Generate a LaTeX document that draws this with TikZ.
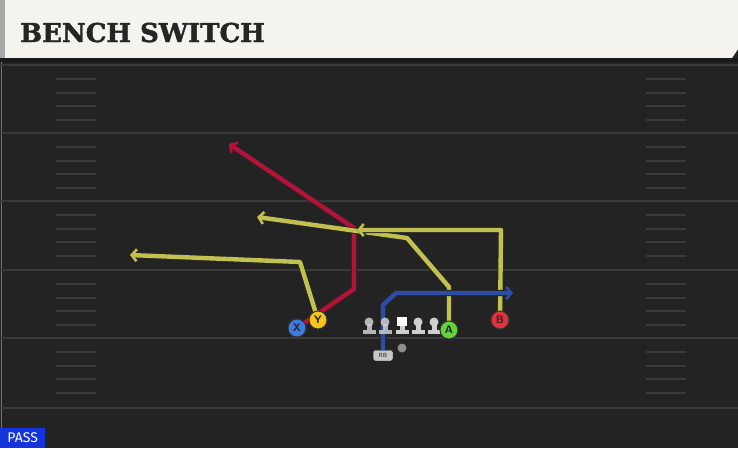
\documentclass[tikz,border=0pt]{standalone}
\usepackage{fontspec}
\setmainfont{DejaVu Sans}
\newfontfamily\titlefont{DejaVu Serif}[FakeBold=1.6]
\newfontfamily\passfont{Fira Sans}
\usetikzlibrary{arrows.meta}
\definecolor{fieldbg}{HTML}{232323}
\definecolor{yardc}{HTML}{3A3A3A}
\definecolor{hashc}{HTML}{3A3A3A}
\definecolor{headbg}{HTML}{F5F3EE}
\definecolor{titlec}{HTML}{252525}
\definecolor{redroute}{HTML}{B5123A}
\definecolor{yelroute}{HTML}{C2C04E}
\definecolor{bluroute}{HTML}{2B4DA5}
\definecolor{xfill}{HTML}{3D7BE0}
\definecolor{yfill}{HTML}{F5C518}
\definecolor{afill}{HTML}{62D33C}
\definecolor{bfill}{HTML}{E2313F}
\definecolor{linec}{HTML}{CFCFCF}
\definecolor{passblue}{HTML}{1434DC}
\tikzset{
  yard/.style={draw=yardc, line width=2pt},
  hashmark/.style={draw=hashc, line width=1.3pt},
  route/.style={draw=#1, line width=4.4pt, line join=round,
    -{Straight Barb[length=5pt,width=12pt,line width=2.6pt]},
    preaction={draw=black!85, line width=6.2pt, line join=round,
    -{Straight Barb[length=5.6pt,width=13.5pt,line width=4.2pt]}}},
  player/.style={circle, draw=black!80, line width=1pt, fill=#1, minimum size=18pt,
    inner sep=0pt, font=\sffamily\bfseries\fontsize{11}{11}\selectfont, text=black!85},
  rbtag/.style={rounded corners=2pt, fill=black!22, minimum width=19pt, minimum height=10pt, inner sep=0pt,
    font=\sffamily\bfseries\fontsize{6}{6}\selectfont, text=black!70},
  lineman/.pic={
    \fill[linec] (-6.5,-4) rectangle (6.5,0);
    \fill[linec] (-2.5,-10) rectangle (2.5,-4);
    \fill[linec] (0,-12) circle (4.5);
  },
  centerman/.pic={
    \fill[linec] (-6.5,-4) rectangle (6.5,0);
    \fill[linec] (-2.5,-10) rectangle (2.5,-4);
    \fill[white] (-5,-17) rectangle (5,-8);
  }
}
\begin{document}
\begin{tikzpicture}[x=1pt,y=-1pt]
\useasboundingbox (0,0) rectangle (738,448);
\fill[fieldbg] (0,0) rectangle (738,448);
% header
\fill[headbg] (0,0) -- (738,0) -- (738,49) -- (732,58) -- (0,58) -- cycle;
\fill[black!90] (0,58) rectangle (738,62);
\fill[black!35] (0,0) rectangle (5,58);
\node[anchor=base west, inner sep=0pt, text=titlec, font=\titlefont\bfseries\fontsize{26}{26}\selectfont] (title) at (20,42) {BENCH SWITCH};
% left edge
\draw[black!55, line width=1pt] (1,62) -- (1,448);
% yard lines
\foreach \y in {65,133,201,270,338,408} {\draw[yard] (0,\y) -- (738,\y);}
\foreach \y in {65,133,201,270,338} {
  \foreach \o in {14,28,41,55} {
    \draw[hashmark] (56,\y+\o) -- (96,\y+\o);
    \draw[hashmark] (646,\y+\o) -- (686,\y+\o);
  }
}
% players
\node[player=xfill] (X) at (297,328) {X};
\node[player=yfill] (Y) at (318,320) {Y};
\node[player=afill] (A) at (449,330) {A};
\node[player=bfill] (B) at (500,320) {B};
\node[circle, fill=black!45, minimum size=9pt, inner sep=0pt] (qb) at (402,348) {};
\node[rbtag] (rb) at (383,355.5) {RB};
% route waypoints
\coordinate (r1) at (354,289); \coordinate (r2) at (354,228); \coordinate (rend) at (229,144);
\coordinate (y1) at (300,262); \coordinate (yend) at (130,255);
\coordinate (a1) at (449,287); \coordinate (a2) at (407,238); \coordinate (aend) at (257,217);
\coordinate (b1) at (501,230); \coordinate (bend) at (357,230);
\coordinate (rb1) at (383,305); \coordinate (rb2) at (396,293); \coordinate (rbend) at (513,293);
% routes
\draw[route=redroute] (X.center) -- (r1) -- (r2) -- (rend);
\draw[route=yelroute] (Y.center) -- (y1) -- (yend);
\draw[route=yelroute] (A.center) -- (a1) -- (a2) -- (aend);
\draw[route=yelroute] (B.center) -- (b1) -- (bend);
\draw[route=bluroute] (rb.center) -- (rb1) -- (rb2) -- (rbend);
% linemen
\pic[opacity=0.85] at (369,334) {lineman};
\pic[opacity=0.85] at (385,334) {lineman};
\pic at (402,334) {centerman};
\pic at (418,334) {lineman};
\pic at (434,334) {lineman};
% redraw player nodes on top
\node[player=xfill] at (X) {X};
\node[player=yfill] at (Y) {Y};
\node[player=afill] at (A) {A};
\node[player=bfill] at (B) {B};
\node[rbtag] at (rb) {RB};
% pass label
\node[fill=passblue, text=white, anchor=south west, minimum width=45pt, minimum height=20pt, inner sep=0pt,
  font=\passfont\fontsize{14}{14}\selectfont] (pass) at (0,448) {PASS};
\end{tikzpicture}
\end{document}
